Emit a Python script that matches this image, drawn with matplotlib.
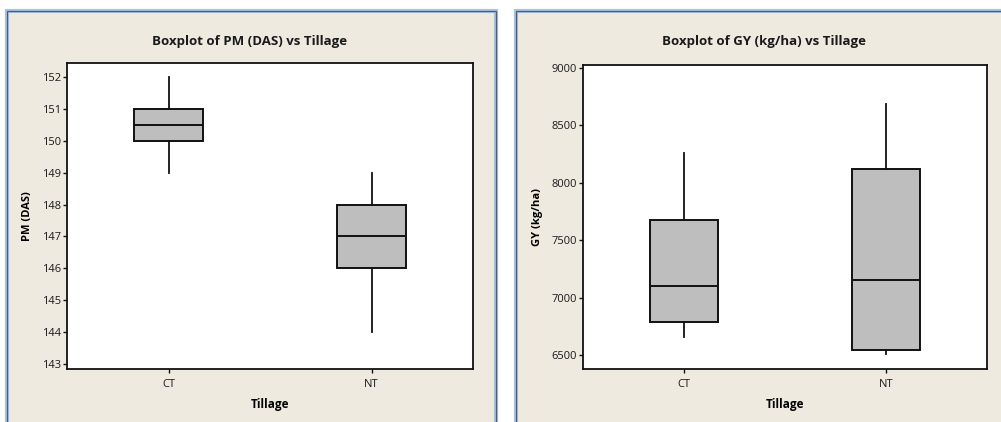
import matplotlib
matplotlib.use("Agg")
import matplotlib.pyplot as plt
from matplotlib.patches import Rectangle

# Tillage groups
tillage = ["CT", "NT"]

# PM (DAS): whisker low, Q1, median, Q3, whisker high
pm_low = [149, 144]
pm_q1 = [150, 146]
pm_med = [150.5, 147]
pm_q3 = [151, 148]
pm_high = [152, 149]
pm_ticks = [143, 144, 145, 146, 147, 148, 149, 150, 151, 152]

# GY (kg/ha): whisker low, Q1, median, Q3, whisker high
gy_low = [6657, 6509]
gy_q1 = [6787, 6544]
gy_med = [7101, 7153]
gy_q3 = [7676, 8120]
gy_high = [8260, 8686]
gy_ticks = [6500, 7000, 7500, 8000, 8500, 9000]

FONT = ["Liberation Sans Narrow", "Open Sans", "DejaVu Sans"]
plt.rcParams["font.family"] = FONT

W, H = 1001, 422
fig = plt.figure(figsize=(W / 100, H / 100), dpi=100, facecolor="white")


def px(x0, y0, x1, y1):
    """Pixel box (top-left origin) -> figure fraction rect."""
    return [x0 / W, 1 - y1 / H, (x1 - x0) / W, (y1 - y0) / H]


# Window-style panels behind each graph
for (x0, x1) in [(7, 496), (516, 1010)]:
    r = px(x0, 11, x1, 440)
    fig.patches.append(Rectangle((r[0], r[1]), r[2], r[3], transform=fig.transFigure,
                                 facecolor="#EEEAE0", edgecolor="#A9C3E2", linewidth=3.0, zorder=-20))
    fig.patches.append(Rectangle((r[0], r[1]), r[2], r[3], transform=fig.transFigure,
                                 facecolor="none", edgecolor="#4E5D72", linewidth=0.9, zorder=-19))


def box_panel(rect, low, q1, med, q3, high, ticks, ylim, title, ylabel, title_x):
    ax = fig.add_axes(rect, zorder=5)
    stats = []
    for i, lab in enumerate(tillage):
        stats.append(dict(label=lab, whislo=low[i], q1=q1[i], med=med[i],
                          q3=q3[i], whishi=high[i], fliers=[]))
    ax.bxp(stats, positions=[1, 2], widths=0.34, patch_artist=True, showcaps=False,
           boxprops=dict(facecolor="#BEBEBE", edgecolor="#111111", linewidth=1.4),
           medianprops=dict(color="#111111", linewidth=1.4),
           whiskerprops=dict(color="#111111", linewidth=1.3))
    ax.set_xlim(0.5, 2.5)
    ax.set_ylim(*ylim)
    ax.set_yticks(ticks)
    ax.set_yticklabels([str(t) for t in ticks])
    ax.set_facecolor("white")
    for s in ax.spines.values():
        s.set_linewidth(1.3)
        s.set_color("#111111")
    ax.tick_params(axis="both", direction="out", length=3, width=1.0, color="#111111",
                   labelsize=8, pad=1.5, top=False, right=False, labelcolor="#1A1A1A")
    ax.tick_params(axis="x", pad=4)
    ax.set_xlabel("Tillage", fontsize=8.5, fontweight="bold", labelpad=6)
    ax.set_ylabel(ylabel, fontsize=8, fontweight="bold", labelpad=6)
    fig.text(title_x, 1 - 41 / H, title, ha="center", va="center",
             fontsize=9.5, fontweight="bold", color="#1A1A1A")
    return ax


box_panel(px(67, 63, 473, 369), pm_low, pm_q1, pm_med, pm_q3, pm_high, pm_ticks,
          (142.84, 152.44), "Boxplot of PM (DAS) vs Tillage", "PM (DAS)", 250 / W)
box_panel(px(583, 65, 987, 369), gy_low, gy_q1, gy_med, gy_q3, gy_high, gy_ticks,
          (6378, 9026), "Boxplot of GY (kg/ha) vs Tillage", "GY (kg/ha)", 764 / W)

fig.savefig("out.png", dpi=100, facecolor="white")
